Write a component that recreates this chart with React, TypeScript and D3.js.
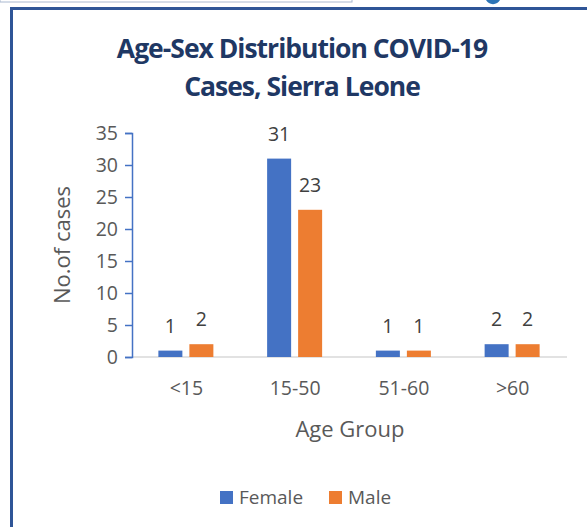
import React, { useRef, useEffect } from "react";
import * as d3 from "d3";

const categories = ["<15", "15-50", "51-60", ">60"];
const female = [1, 31, 1, 2];
const male = [2, 23, 1, 2];
const yTicks = [0, 5, 10, 15, 20, 25, 30, 35];
const seriesNames = ["Female", "Male"];
const colors = ["#4472C4", "#ED7D31"];

const App: React.FC = () => {
  const svgRef = useRef<SVGSVGElement | null>(null);
  const width = 587;
  const height = 527;
  const font = "'Open Sans', sans-serif";

  useEffect(() => {
    if (!svgRef.current) return;
    const svg = d3.select(svgRef.current);
    svg.selectAll("*").remove();

    // frame bits from the slide
    svg.append("rect").attr("x", 0).attr("y", -2).attr("width", 352).attr("height", 4)
      .attr("fill", "white").attr("stroke", "#A9B8D0").attr("stroke-width", 1);
    svg.append("path").attr("d", "M486,0 A8,8 0 0,0 500,0").attr("fill", "#2E75B6");
    svg.append("path").attr("d", `M11.5,${height} V8.5 H${width}`)
      .attr("fill", "none").attr("stroke", "#2F5597").attr("stroke-width", 3);

    const left = 132, right = 567, top = 133, bottom = 357;
    const x = d3.scaleBand().domain(categories).range([left, right]);
    const y = d3.scaleLinear().domain([0, 35]).range([bottom, top]);

    // title
    const title = svg.append("text").attr("text-anchor", "middle")
      .attr("font-family", font).attr("font-weight", "bold").attr("font-size", 26.5)
      .attr("fill", "#1F3864").attr("letter-spacing", -1);
    title.append("tspan").attr("x", 302).attr("y", 58).text("Age-Sex Distribution COVID-19");
    title.append("tspan").attr("x", 302).attr("y", 96).text("Cases, Sierra Leone");

    // baseline
    svg.append("line").attr("x1", left).attr("x2", right).attr("y1", bottom).attr("y2", bottom)
      .attr("stroke", "#D9D9D9").attr("stroke-width", 1.5);

    // y axis
    const yAxis = svg.append("g").attr("transform", `translate(${left},0)`)
      .call(d3.axisLeft(y).tickValues(yTicks).tickSize(7).tickPadding(7));
    yAxis.select(".domain").attr("stroke", "#4472C4").attr("stroke-width", 1.5);
    yAxis.selectAll(".tick line").attr("stroke", "#4472C4").attr("stroke-width", 1.5);
    yAxis.selectAll(".tick text").attr("font-family", font).attr("font-size", 19.5)
      .attr("fill", "#595959");

    const barW = 24;
    const series = [female, male];
    series.forEach((vals, si) => {
      vals.forEach((v, i) => {
        const cx = (x(categories[i]) as number) + x.bandwidth() / 2;
        const bx = si === 0 ? cx - 28 : cx + 3;
        svg.append("rect").attr("x", bx).attr("y", y(v)).attr("width", barW)
          .attr("height", bottom - y(v)).attr("fill", colors[si]);
        svg.append("text").attr("x", bx + barW / 2).attr("y", y(v) - 18)
          .attr("text-anchor", "middle").attr("font-family", font).attr("font-size", 19.5)
          .attr("fill", "#404040").text(v);
      });
    });

    // x labels
    categories.forEach((c) => {
      svg.append("text").attr("x", (x(c) as number) + x.bandwidth() / 2).attr("y", 395)
        .attr("text-anchor", "middle").attr("font-family", font).attr("font-size", 19.5)
        .attr("fill", "#595959").text(c);
    });

    // axis titles
    svg.append("text").attr("x", 350).attr("y", 437).attr("text-anchor", "middle")
      .attr("font-family", font).attr("font-size", 22).attr("fill", "#595959").text("Age Group");
    svg.append("text").attr("transform", "translate(70,245) rotate(-90)")
      .attr("text-anchor", "middle").attr("font-family", font).attr("font-size", 22)
      .attr("fill", "#595959").text("No.of cases");

    // legend
    const legendX = [220, 329];
    seriesNames.forEach((n, i) => {
      svg.append("rect").attr("x", legendX[i]).attr("y", 491).attr("width", 13).attr("height", 13)
        .attr("fill", colors[i]);
      svg.append("text").attr("x", legendX[i] + 19).attr("y", 504)
        .attr("font-family", font).attr("font-size", 19).attr("fill", "#595959").text(n);
    });
  }, []);

  return (
    <div style={{ position: "absolute", left: 0, top: 0 }}>
      <svg ref={svgRef} width={width} height={height} style={{ display: "block" }} />
    </div>
  );
};

export default App;
